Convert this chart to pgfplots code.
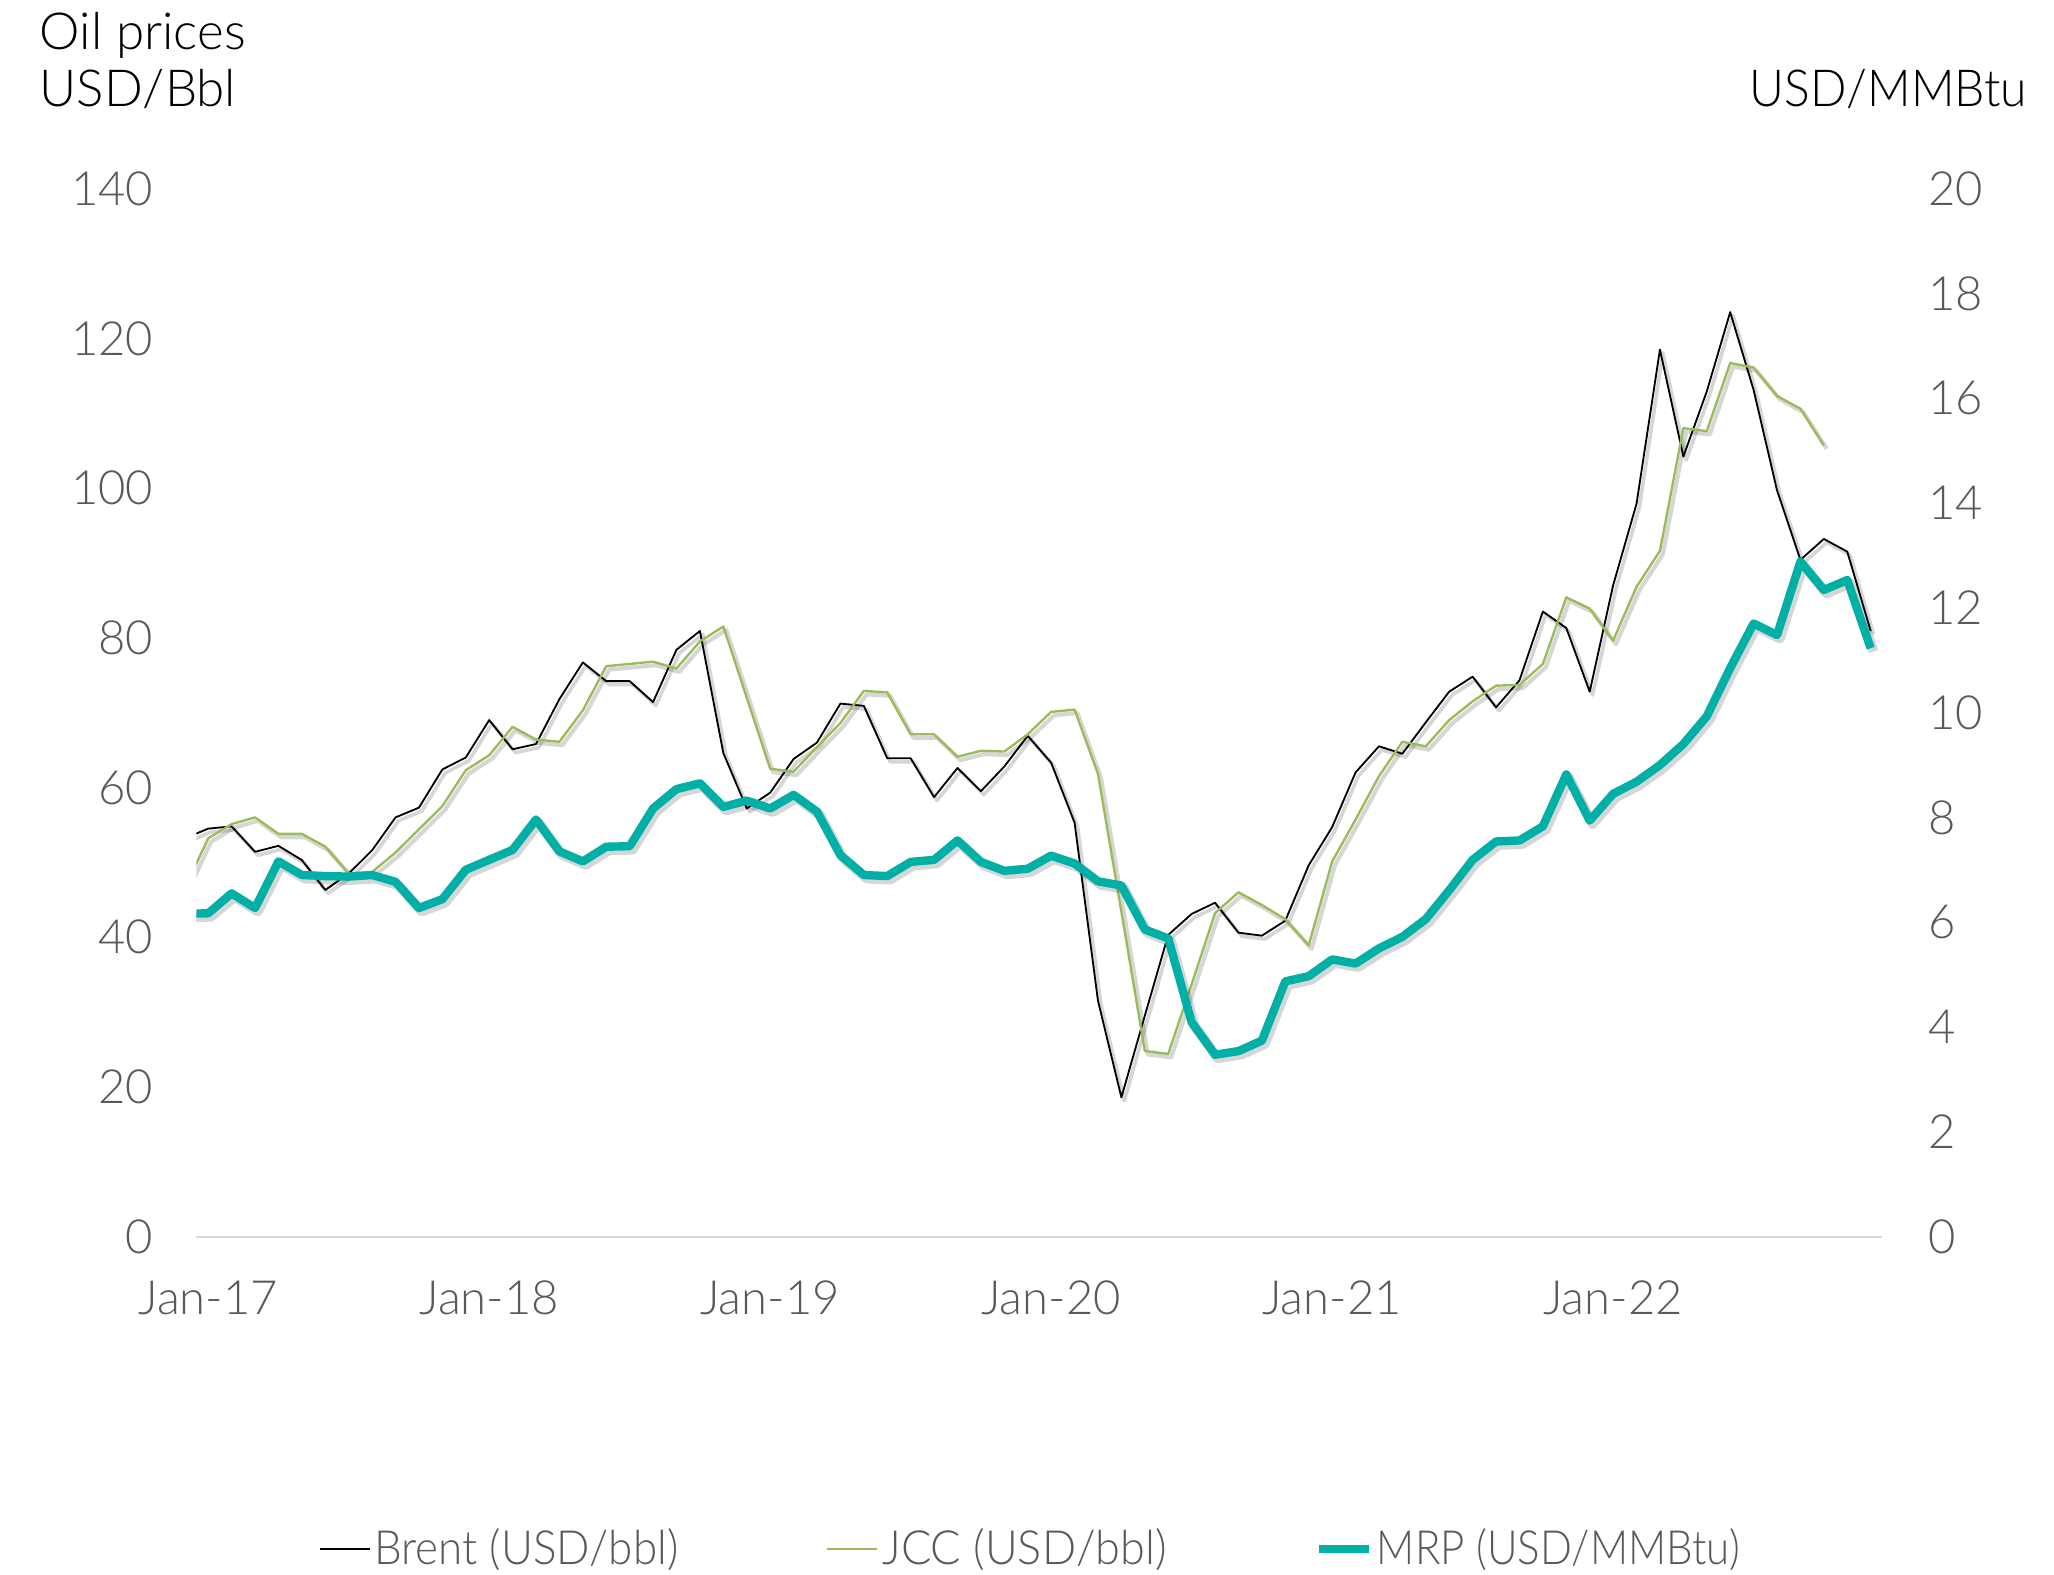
\documentclass[border=0pt]{standalone}
\usepackage{pgfplots}
\pgfplotsset{compat=1.18}
\usepackage{pgfplotstable}
\usepackage{graphicx}
\usepackage{fontspec}
\IfFontExistsTF{Lato Light}{\setmainfont{Lato Light}}{\setmainfont{Lato}}
\definecolor{brentc}{RGB}{0,0,0}
\definecolor{jccc}{RGB}{155,187,89}
\definecolor{mrpc}{RGB}{0,176,166}
\definecolor{tickc}{RGB}{89,89,89}
\definecolor{axc}{RGB}{217,217,217}

\pgfplotstableread{
m v
-1 53.2
0 54.5
1 54.8
2 51.4
3 52.2
4 50.3
5 46.3
6 48.5
7 51.6
8 56.0
9 57.3
10 62.4
11 64.0
12 69.0
13 65.1
14 65.8
15 71.8
16 76.7
17 74.2
18 74.2
19 71.4
20 78.4
21 80.9
22 64.6
23 57.2
24 59.3
25 63.8
26 66.0
27 71.2
28 70.9
29 63.9
30 63.9
31 58.7
32 62.6
33 59.5
34 62.8
35 66.9
36 63.3
37 55.3
38 31.5
39 18.6
40 29.5
41 40.3
42 43.1
43 44.6
44 40.6
45 40.2
46 42.2
47 49.6
48 54.7
49 62.0
50 65.5
51 64.5
52 68.7
53 72.8
54 74.8
55 70.7
56 74.3
57 83.5
58 81.3
59 72.8
60 87.0
61 97.9
62 118.5
63 104.2
64 112.9
65 123.5
66 113.1
67 99.7
68 90.4
69 93.2
70 91.5
71 80.9
}\brent

\pgfplotstableread{
m v
-1 46.5
0 53.2
1 55.1
2 56.0
3 53.8
4 53.8
5 52.1
6 48.5
7 48.7
8 51.3
9 54.4
10 57.5
11 62.3
12 64.3
13 68.1
14 66.4
15 66.1
16 70.3
17 76.2
18 76.5
19 76.8
20 75.9
21 79.5
22 81.5
23 72.0
24 62.5
25 62.1
26 65.4
27 68.6
28 72.9
29 72.7
30 67.1
31 67.1
32 64.1
33 64.9
34 64.8
35 67.1
36 70.1
37 70.4
38 61.8
39 43.4
40 24.8
41 24.4
42 33.7
43 43.2
44 46.0
45 44.3
46 42.4
47 38.9
48 50.1
49 55.7
50 61.5
51 66.1
52 65.5
53 69.0
54 71.5
55 73.6
56 73.7
57 76.5
58 85.4
59 83.9
60 79.6
61 86.8
62 91.6
63 108.0
64 107.6
65 116.7
66 116.1
67 112.3
68 110.6
69 105.7
}\jcc

\pgfplotstableread{
m v
-1 6.16
0 6.17
1 6.55
2 6.27
3 7.16
4 6.90
5 6.88
6 6.87
7 6.90
8 6.77
9 6.27
10 6.44
11 7.00
12 7.19
13 7.38
14 7.96
15 7.35
16 7.16
17 7.44
18 7.45
19 8.17
20 8.54
21 8.65
22 8.20
23 8.32
24 8.17
25 8.43
26 8.11
27 7.28
28 6.90
29 6.88
30 7.15
31 7.19
32 7.56
33 7.15
34 6.98
35 7.02
36 7.27
37 7.12
38 6.78
39 6.70
40 5.86
41 5.69
42 4.09
43 3.47
44 3.54
45 3.74
46 4.87
47 4.97
48 5.29
49 5.21
50 5.50
51 5.72
52 6.06
53 6.61
54 7.19
55 7.54
56 7.56
57 7.83
58 8.82
59 7.94
60 8.45
61 8.68
62 9.00
63 9.40
64 9.93
65 10.85
66 11.70
67 11.48
68 12.88
69 12.34
70 12.53
71 11.23
}\mrp

\pgfplotsset{
  common/.style={
    at={(0,0)}, anchor=south west,
    scale only axis, width=643.5pt, height=400pt,
    xmin=-0.5, xmax=71.5, ymin=0,
    major tick length=0pt,
    tick label style={font=\fontsize{18}{21}\selectfont, text=tickc},
    /pgf/number format/assume math mode=true,
  },
  shadow/.style={draw=black, opacity=0.16, line join=round,
    transform canvas={xshift=1.1pt, yshift=-1.3pt}, forget plot},
}

\begin{document}
\begin{tikzpicture}
\useasboundingbox (-75pt,-129pt) rectangle (709pt,472pt);
\begin{axis}[common,
  ymax=140, ytick={0,20,...,140},
  axis x line*=bottom, axis y line*=left,
  x axis line style={draw=axc, line width=0.8pt, -},
  y axis line style={draw=none},
  xtick={0,12,24,36,48,60},
  xticklabels={Jan-17,Jan-18,Jan-19,Jan-20,Jan-21,Jan-22},
  yticklabel style={xshift=-13pt},
  xticklabel style={yshift=-13.5pt},
  legend columns=3,
  legend style={at={(rel axis cs:0.0676,-0.298)}, anchor=west, draw=none, fill=none,
    font=\fontsize{18}{21}\selectfont, text=tickc,
    /tikz/every even column/.append style={column sep=55pt},
    nodes={inner sep=1.5pt}},
  legend image code/.code={\draw[#1] (0pt,0pt) -- (19pt,0pt);},
]
\addplot[shadow, line width=1.4pt] table[x=m,y=v] {\brent};
\addplot[shadow, line width=1.6pt] table[x=m,y=v] {\jcc};
\addplot[draw=brentc, line width=0.7pt, line join=round] table[x=m,y=v] {\brent};
\addlegendentry{\scalebox{0.932}[1]{Brent (USD/bbl)}}
\addplot[draw=jccc, line width=0.9pt, line join=round] table[x=m,y=v] {\jcc};
\addlegendentry{\scalebox{0.955}[1]{JCC (USD/bbl)}}
\addlegendimage{draw=mrpc, line width=3.2pt}
\addlegendentry{\scalebox{0.891}[1]{MRP (USD/MMBtu)}}
\end{axis}
\begin{axis}[common,
  ymax=20, ytick={0,2,...,20},
  axis x line=none, axis y line*=right,
  y axis line style={draw=none},
  yticklabel style={xshift=14pt},
]
\addplot[shadow, line width=3.8pt] table[x=m,y=v] {\mrp};
\addplot[draw=mrpc, line width=3.2pt, line join=round] table[x=m,y=v] {\mrp};
\end{axis}
\node[anchor=base west, inner sep=0pt, font=\fontsize{19.5}{22}\selectfont] at (-60pt,453pt) {Oil prices};
\node[anchor=base west, inner sep=0pt, font=\fontsize{19.5}{22}\selectfont] at (-60pt,431.3pt) {USD/Bbl};
\node[anchor=base east, inner sep=0pt, font=\fontsize{19.5}{22}\selectfont] at (699pt,431.3pt) {\scalebox{0.94}[1]{USD/MMBtu}};
\end{tikzpicture}
\end{document}
